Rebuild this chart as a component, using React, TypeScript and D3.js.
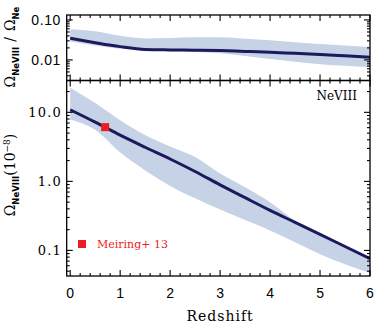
import React from "react";
import * as d3 from "d3";

// redshift grid the curves were read on
const redshift = [0, 0.5, 1, 1.5, 2, 2.5, 3, 3.5, 4, 4.5, 5, 5.5, 6];

// top panel: Omega_NeVIII / Omega_Ne
const fracMedian = [0.0348, 0.027, 0.0215, 0.0183, 0.0178, 0.0175, 0.0171, 0.0163, 0.0155, 0.0146, 0.0137, 0.0127, 0.0117];
const fracHigh = [0.0585, 0.052, 0.04, 0.0345, 0.0355, 0.037, 0.037, 0.034, 0.031, 0.0276, 0.025, 0.0228, 0.0207];
const fracLow = [0.0287, 0.023, 0.019, 0.0175, 0.0165, 0.0158, 0.0147, 0.0125, 0.0105, 0.009, 0.0078, 0.0071, 0.0066];

// bottom panel: Omega_NeVIII in units of 1e-8
const omegaMedian = [10.9, 7.2, 4.67, 3.12, 2.11, 1.39, 0.89, 0.58, 0.38, 0.255, 0.171, 0.114, 0.076];
const omegaHigh = [22.6, 13.6, 7.7, 4.7, 3.2, 2.25, 1.3, 0.82, 0.5, 0.27, 0.175, 0.116, 0.077];
const omegaLow = [7.9, 5.6, 2.63, 1.44, 0.86, 0.57, 0.39, 0.275, 0.195, 0.131, 0.088, 0.063, 0.047];

// observation
const obsZ = [0.7];
const obsOmega = [6.1];

const xTicks = [0, 1, 2, 3, 4, 5, 6];
const fracTicks = [0.1, 0.01];
const fracTickLabels = ["0.10", "0.01"];
const omegaTicks = [10, 1, 0.1];
const omegaTickLabels = ["10.0", "1.0", "0.1"];

const W = 390;
const H = 325;
const left = 66.7;
const right = 370;
const topPanel = { y0: 15, y1: 80.5 };
const botPanel = { y0: 80.5, y1: 276 };

const NAVY = "#1c1a5c";
const BAND = "#c6d2e5";
const RED = "#ec1c24";
const SERIF = "'DejaVu Serif', serif";
const SANS = "'Liberation Sans', Arial, sans-serif";
const SUB = "'DejaVu Sans', sans-serif";

const x = d3.scaleLinear().domain([-0.07, 6]).range([left, right]);
const yTop = d3.scaleLog().domain([0.00305, 0.133]).range([topPanel.y1, topPanel.y0]);
const yBot = d3.scaleLog().domain([0.0426, 28.9]).range([botPanel.y1, botPanel.y0]);

function Panel({ y, lo, hi, mid, y0, y1, id }) {
  const area = d3
    .area<number>()
    .x((_, i) => x(redshift[i]))
    .y0((_, i) => y(lo[i]))
    .y1((_, i) => y(hi[i]))
    .curve(d3.curveMonotoneX);
  const line = d3
    .line<number>()
    .x((_, i) => x(redshift[i]))
    .y((v) => y(v))
    .curve(d3.curveMonotoneX);

  const [dmin, dmax] = y.domain();
  const logTicks = y.ticks().filter((t) => t >= dmin && t <= dmax);
  const minorX = d3.range(0, 6.001, 0.2);

  return (
    <g>
      <defs>
        <clipPath id={id}>
          <rect x={left} y={y0} width={right - left} height={y1 - y0} />
        </clipPath>
      </defs>
      <g clipPath={`url(#${id})`}>
        <path d={area(mid) ?? ""} fill={BAND} />
        <path d={line(mid) ?? ""} fill="none" stroke={NAVY} strokeWidth={3} />
      </g>
      {/* x ticks top & bottom, inward */}
      {minorX.map((t, i) => {
        const major = Math.abs(t - Math.round(t)) < 1e-6;
        const len = major ? 6 : 3;
        return (
          <g key={i} stroke="#000" strokeWidth={1.1}>
            <line x1={x(t)} x2={x(t)} y1={y1} y2={y1 - len} />
            <line x1={x(t)} x2={x(t)} y1={y0} y2={y0 + len} />
          </g>
        );
      })}
      {/* log ticks left & right, inward */}
      {logTicks.map((t, i) => {
        const major = Math.abs(Math.log10(t) - Math.round(Math.log10(t))) < 1e-6;
        const len = major ? 6 : 3;
        return (
          <g key={i} stroke="#000" strokeWidth={1.1}>
            <line x1={left} x2={left + len} y1={y(t)} y2={y(t)} />
            <line x1={right} x2={right - len} y1={y(t)} y2={y(t)} />
          </g>
        );
      })}
      <rect x={left} y={y0} width={right - left} height={y1 - y0} fill="none" stroke="#000" strokeWidth={1.3} />
    </g>
  );
}

export default function App() {
  return (
    <div style={{ position: "absolute", left: 0, top: 0 }}>
      <svg width={W} height={H} style={{ display: "block", background: "#fff" }}>
        <Panel y={yTop} lo={fracLow} hi={fracHigh} mid={fracMedian} y0={topPanel.y0} y1={topPanel.y1} id="clipTop" />
        <Panel y={yBot} lo={omegaLow} hi={omegaHigh} mid={omegaMedian} y0={botPanel.y0} y1={botPanel.y1} id="clipBot" />

        {/* observation */}
        {obsZ.map((z, i) => (
          <rect key={i} x={x(z) - 4} y={yBot(obsOmega[i]) - 4} width={8} height={8} fill={RED} />
        ))}

        {/* top y tick labels */}
        {fracTicks.map((t, i) => (
          <text key={i} x={61} y={yTop(t) + 5} textAnchor="end" fontFamily={SANS} fontSize={14} letterSpacing={0.6}>
            {fracTickLabels[i]}
          </text>
        ))}
        {/* bottom y tick labels */}
        {omegaTicks.map((t, i) => (
          <text key={i} x={62} y={yBot(t) + 5} textAnchor="end" fontFamily={SERIF} fontSize={13} letterSpacing={1.2}>
            {omegaTickLabels[i]}
          </text>
        ))}
        {/* x tick labels */}
        {xTicks.map((t) => (
          <text key={t} x={x(t)} y={298} textAnchor="middle" fontFamily={SANS} fontSize={14}>
            {t}
          </text>
        ))}
        <text x={x(3)} y={321} textAnchor="middle" fontFamily={SERIF} fontSize={14} letterSpacing={1}>
          Redshift
        </text>

        {/* y labels */}
        <text transform="translate(15,47) rotate(-90)" textAnchor="middle" fontFamily={SERIF} fontSize={14}>
          <tspan>Ω</tspan>
          <tspan dy={4} fontFamily={SUB} fontWeight="bold" fontSize={8.5}>NeVIII</tspan>
          <tspan dy={-4} dx={5}>/</tspan>
          <tspan dx={6}>Ω</tspan>
          <tspan dy={4} fontFamily={SUB} fontWeight="bold" fontSize={8.5}>Ne</tspan>
        </text>
        <text transform="translate(15,175) rotate(-90)" textAnchor="middle" fontFamily={SERIF} fontSize={14}>
          <tspan>Ω</tspan>
          <tspan dy={4} fontFamily={SUB} fontWeight="bold" fontSize={8.5}>NeVIII</tspan>
          <tspan dy={-4}>(10</tspan>
          <tspan dy={-5} fontSize={9}>−8</tspan>
          <tspan dy={5}>)</tspan>
        </text>

        {/* panel annotation and legend */}
        <text x={357} y={100} textAnchor="end" fontFamily={SERIF} fontSize={12}>
          NeVIII
        </text>
        <rect x={78} y={240} width={8} height={8} fill={RED} />
        <text x={97} y={248} fontFamily={SERIF} fontSize={11} fill={RED}>
          Meiring+ 13
        </text>
      </svg>
    </div>
  );
}
